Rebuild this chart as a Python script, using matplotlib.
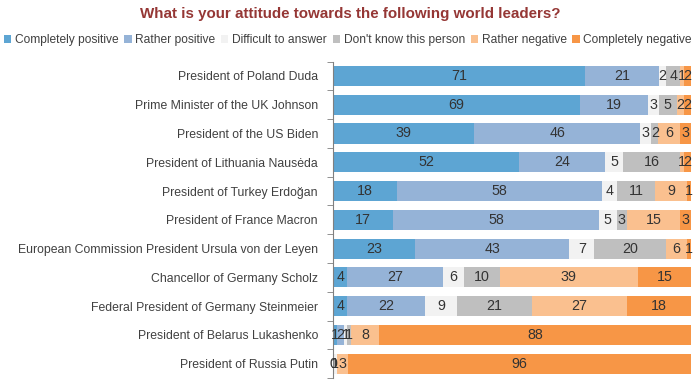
import numpy as np
import matplotlib
matplotlib.use('Agg')
import matplotlib.pyplot as plt
from matplotlib import font_manager

# Leaders, top to bottom as in the chart
leaders = ['President of Poland Duda', 'Prime Minister of the UK Johnson',
           'President of the US Biden', 'President of Lithuania Nausėda',
           'President of Turkey Erdoğan', 'President of France Macron',
           'European Commission President Ursula von der Leyen',
           'Chancellor of Germany Scholz', 'Federal President of Germany Steinmeier',
           'President of Belarus Lukashenko', 'President of Russia Putin']

categories = ['Completely positive', 'Rather positive', 'Difficult to answer',
              "Don't know this person", 'Rather negative', 'Completely negative']

completely_positive = [71, 69, 39, 52, 18, 17, 23, 4, 4, 1, 0]
rather_positive = [21, 19, 46, 24, 58, 58, 43, 27, 22, 2, 0]
difficult = [2, 3, 3, 5, 4, 5, 7, 6, 9, 1, 1]
dont_know = [4, 5, 2, 16, 11, 3, 20, 10, 21, 1, 0]
rather_negative = [1, 2, 6, 1, 9, 15, 6, 39, 27, 8, 3]
completely_negative = [2, 2, 3, 2, 1, 3, 1, 15, 18, 88, 96]

colors = ['#5DA5D3', '#95B3D7', '#F2F2F2', '#BFBFBF', '#FAC08F', '#F79646']

names = [f.name for f in font_manager.fontManager.ttflist]
narrow = 'Liberation Sans Narrow' in names
family = 'Liberation Sans Narrow' if narrow else 'Liberation Sans'
k = 1.0 if narrow else 0.82
plt.rcParams['font.family'] = [family, 'DejaVu Sans']

series = np.array([completely_positive, rather_positive, difficult,
                   dont_know, rather_negative, completely_negative], dtype=float)
totals = series.sum(axis=0)
shares = series / totals * 100

fig = plt.figure(figsize=(7, 3.82), dpi=100)
ax = fig.add_axes([0.476, 0.010, 0.511, 0.829])

y = np.arange(len(leaders))
left = np.zeros(len(leaders))
for i, (cat, col) in enumerate(zip(categories, colors)):
    ax.barh(y, shares[i], left=left, height=0.7, color=col, label=cat)
    for j in range(len(leaders)):
        # zero-width segments only get a label in the first column
        if series[i][j] == 0 and i > 0:
            continue
        ax.text(left[j] + shares[i][j] / 2, y[j], f'{int(series[i][j])}',
                ha='center', va='center', fontsize=12.5 * k, color='#333333')
    left += shares[i]

ax.set_xlim(0, 100)
ax.set_ylim(len(leaders) - 0.5, -0.5)
ax.set_yticks(y)
ax.set_yticklabels(leaders, fontsize=10.8 * k, color='#404040')
ax.set_yticks(np.arange(len(leaders) + 1) - 0.5, minor=True)
ax.tick_params(axis='y', which='major', length=0, pad=11)
ax.tick_params(axis='y', which='minor', length=4, color='#808080')
ax.set_xticks([])
for s in ['top', 'right', 'bottom']:
    ax.spines[s].set_visible(False)
ax.spines['left'].set_color('#808080')

fig.text(0.5, 0.963, 'What is your attitude towards the following world leaders?',
         ha='center', va='center', fontsize=13.3 * k, fontweight='bold', color='#953735')
fig.legend(loc='center', bbox_to_anchor=(0.497, 0.895), ncol=6, frameon=False,
           fontsize=10.5 * k, handlelength=0.6, handleheight=0.6, handletextpad=0.3,
           columnspacing=0.5, labelcolor='#404040')

fig.savefig('out.png', dpi=100)
